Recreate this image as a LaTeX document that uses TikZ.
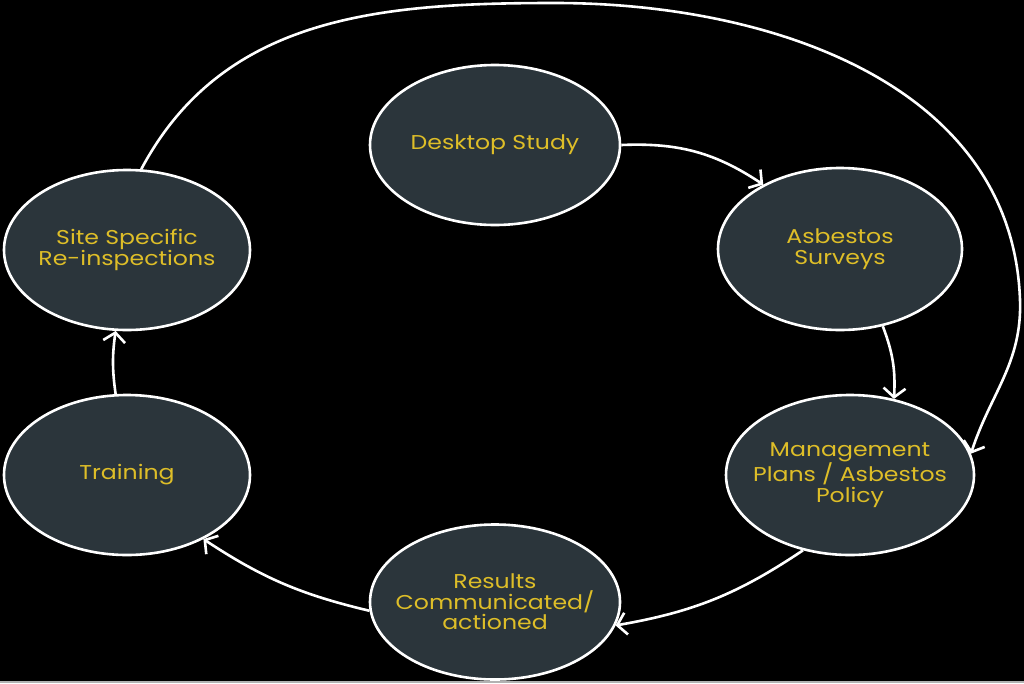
\documentclass[tikz,border=0pt]{standalone}
\usepackage{fontspec}
\newfontfamily\diafont[FakeStretch=1.18]{Poppins}
\usetikzlibrary{shapes.geometric,arrows.meta}
\definecolor{nodefill}{RGB}{43,53,59}
\definecolor{txt}{RGB}{222,190,40}
\tikzset{
  stage/.style={ellipse, draw=white, line width=2.6pt, fill=nodefill, inner xsep=-50pt, inner ysep=0pt,
    minimum width=246pt, minimum height=160pt, text=txt, align=center,
    font=\diafont\fontsize{20}{20.5}\selectfont},
  flow/.style={draw=white, line width=2.6pt, -{Straight Barb[length=9pt,width=22pt,line width=2.6pt]}},
}
\begin{document}
\begin{tikzpicture}[x=1pt,y=-1pt]
\fill[black] (0,0) rectangle (1024,683);
\useasboundingbox (0,0) rectangle (1024,683);
\draw[gray!60, line width=1.5pt] (0,682) -- (1024,682);
\node[stage, minimum width=250pt] (desk) at (495,145) {Desktop Study};
\node[stage, minimum width=244pt, minimum height=162pt] (surv) at (840,249) {Asbestos\\Surveys};
\node[stage, minimum width=248pt] (mgmt) at (850,475) {Management\\Plans / Asbestos\\Policy};
\node[stage, minimum width=250pt, minimum height=155pt] (res) at (495,602) {Results\\Communicated/\\actioned};
\node[stage] (train) at (127,475) {Training};
\node[stage] (site) at (127,250) {Site Specific\\Re-inspections};
\draw[flow] (desk.east) to[bend left=18] (surv.140);
\draw[flow] (surv.-61) to[bend left=12] (mgmt.60);
\draw[flow] (mgmt.-122) to[bend left=12] (res.-11);
\draw[flow] (res.184) to[bend left=10] (train.-40);
\draw[flow] (train.98) to[bend left=8] (site.-98);
\draw[flow] (site.80) to[out=62,in=180] (555,3) to[out=0,in=92] (1020,300) to[out=-88,in=72] (mgmt.10);
\end{tikzpicture}
\end{document}
